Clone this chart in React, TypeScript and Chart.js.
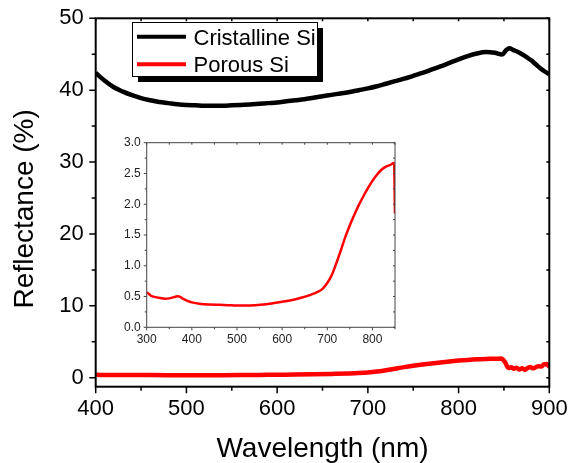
import React, { useEffect, useRef } from 'react';
import { Chart, registerables } from 'chart.js';

Chart.register(...registerables);

const FONT = "'Liberation Sans', Arial, Helvetica, sans-serif";

// ---- Main chart data ----
const crystWl = [400,410,420,430,440,450,460,470,480,490,500,510,520,530,540,550,560,570,580,590,600,610,620,630,640,650,660,670,680,690,700,710,720,730,740,750,760,770,780,790,800,810,820,830,840,848,852,856,860,865,870,875,880,885,890,895,900];
const crystR = [42.4,41.3,40.4,39.8,39.3,38.9,38.6,38.35,38.2,38.05,37.95,37.9,37.85,37.85,37.85,37.9,37.95,38.0,38.1,38.2,38.3,38.45,38.6,38.75,38.95,39.15,39.35,39.55,39.75,40.0,40.25,40.55,40.9,41.25,41.6,42.0,42.4,42.85,43.3,43.8,44.3,44.75,45.1,45.3,45.2,44.95,45.5,45.85,45.6,45.35,45.0,44.6,44.15,43.6,43.05,42.6,42.2];

const porousWl = [400,420,440,460,480,500,520,540,560,580,600,620,640,660,680,690,700,710,720,730,740,750,760,770,780,790,800,810,820,830,840,847,851,855,858,861,864,867,870,873,876,879,882,885,888,891,894,897,900];
const porousR = [0.40,0.38,0.37,0.365,0.36,0.355,0.355,0.36,0.37,0.39,0.42,0.44,0.48,0.53,0.59,0.64,0.72,0.85,1.04,1.25,1.47,1.66,1.83,1.99,2.13,2.26,2.38,2.48,2.56,2.61,2.64,2.67,2.2,1.35,1.45,1.25,1.4,1.15,1.3,1.1,1.35,1.5,1.3,1.45,1.6,1.55,1.85,1.9,1.5];

// ---- Inset data ----
const insetWl = [300,305,310,320,330,340,350,360,365,370,375,380,390,400,420,440,460,480,500,520,540,560,580,600,620,640,660,680,690,700,710,720,730,740,750,760,770,780,790,800,810,820,830,840,848,850];
const insetR = [0.57,0.54,0.51,0.49,0.475,0.465,0.47,0.49,0.50,0.505,0.49,0.465,0.43,0.405,0.38,0.37,0.365,0.36,0.355,0.355,0.36,0.37,0.39,0.415,0.44,0.475,0.52,0.58,0.63,0.72,0.85,1.04,1.25,1.47,1.66,1.83,1.99,2.13,2.26,2.38,2.48,2.56,2.61,2.64,2.67,1.85];

// ---- Ticks ----
const mainXTicks = [400,450,500,550,600,650,700,750,800,850,900];
const mainYTicks = [0,5,10,15,20,25,30,35,40,45,50];
const insetXTicks = [300,350,400,450,500,550,600,650,700,750,800,850];
const insetYTicks = [0,0.25,0.5,0.75,1,1.25,1.5,1.75,2,2.25,2.5,2.75,3];

const xTitle = 'Wavelength (nm)';
const yTitle = 'Reflectance (%)';
const seriesNames = ['Cristalline Si', 'Porous Si'];

function framePlugin(cfg: any) {
  return {
    id: 'frame_' + cfg.id,
    afterDraw(chart: any) {
      const { ctx, chartArea: a, scales } = chart;
      const xs = scales.x, ys = scales.y;
      ctx.save();
      ctx.strokeStyle = cfg.color;
      ctx.lineWidth = cfg.tickW;
      ctx.beginPath();
      for (const v of cfg.xTicks) {
        const px = xs.getPixelForValue(v);
        const major = cfg.xMajor(v);
        ctx.moveTo(px, a.bottom);
        ctx.lineTo(px, a.bottom + (major ? cfg.outMajor : cfg.outMinor));
        ctx.moveTo(px, a.top);
        ctx.lineTo(px, a.top + cfg.inLen);
      }
      for (const v of cfg.yTicks) {
        const py = ys.getPixelForValue(v);
        const major = cfg.yMajor(v);
        ctx.moveTo(a.left, py);
        ctx.lineTo(a.left - (major ? cfg.outMajor : cfg.outMinor), py);
        ctx.moveTo(a.right, py);
        ctx.lineTo(a.right - cfg.inLen, py);
      }
      ctx.stroke();
      ctx.lineWidth = cfg.lw;
      ctx.strokeRect(a.left, a.top, a.right - a.left, a.bottom - a.top);
      ctx.restore();
    },
  };
}

const legendPlugin = {
  id: 'boxLegend',
  afterDraw(chart: any) {
    const { ctx } = chart;
    const bx = 132.5, by = 22.5, bw = 185, bh = 54;
    ctx.save();
    ctx.fillStyle = '#000';
    ctx.fillRect(bx + 5.5, by + 5.5, bw, bh);
    ctx.fillStyle = '#fff';
    ctx.fillRect(bx, by, bw, bh);
    ctx.strokeStyle = '#000';
    ctx.lineWidth = 1;
    ctx.strokeRect(bx, by, bw, bh);
    const rows = [36.7, 64.3];
    const order = [0, 1];
    order.forEach((di, i) => {
      const ds = chart.data.datasets[di];
      ctx.strokeStyle = ds.borderColor;
      ctx.lineWidth = 4;
      ctx.beginPath();
      ctx.moveTo(137, rows[i]);
      ctx.lineTo(186, rows[i]);
      ctx.stroke();
      ctx.fillStyle = '#000';
      ctx.font = `22px ${FONT}`;
      ctx.textBaseline = 'alphabetic';
      ctx.textAlign = 'left';
      ctx.fillText(ds.label, 193.5, rows[i] + 8);
    });
    // y axis title
    ctx.translate(25.3, 208.8);
    ctx.rotate(-Math.PI / 2);
    ctx.font = `28px ${FONT}`;
    ctx.textAlign = 'center';
    ctx.textBaseline = 'middle';
    ctx.fillStyle = '#000';
    ctx.fillText(yTitle, 0, 0);
    ctx.restore();
  },
};

const fitX = (h: number) => (s: any) => {
  s.height = h;
  s.paddingLeft = 0;
  s.paddingRight = 0;
};
const fitY = (w: number) => (s: any) => {
  s.width = w;
  s.paddingTop = 0;
  s.paddingBottom = 0;
};

export default function App() {
  const mainRef = useRef<HTMLCanvasElement>(null);
  const insetRef = useRef<HTMLCanvasElement>(null);

  useEffect(() => {
    const main = new Chart(mainRef.current as HTMLCanvasElement, {
      type: 'line',
      data: {
        datasets: [
          {
            label: seriesNames[0],
            data: crystWl.map((x, i) => ({ x, y: crystR[i] })),
            borderColor: '#000000',
            borderWidth: 4.5,
            pointRadius: 0,
            cubicInterpolationMode: 'monotone',
            fill: false,
          },
          {
            label: seriesNames[1],
            data: porousWl.map((x, i) => ({ x, y: porousR[i] })),
            borderColor: '#ff0000',
            borderWidth: 4.5,
            pointRadius: 0,
            cubicInterpolationMode: 'monotone',
            fill: false,
          },
        ],
      },
      options: {
        animation: false,
        responsive: false,
        devicePixelRatio: 1,
        layout: { padding: { left: 0, right: 21.7, top: 18.3, bottom: 0 } },
        plugins: { legend: { display: false }, tooltip: { enabled: false } },
        scales: {
          x: {
            type: 'linear',
            min: 400,
            max: 900,
            afterBuildTicks: (s: any) => { s.ticks = mainXTicks.map((v) => ({ value: v })); },
            afterFit: fitX(76.3),
            grid: { display: false, drawTicks: false },
            border: { display: false },
            ticks: {
              autoSkip: false,
              maxRotation: 0,
              padding: 9.5,
              color: '#000',
              font: { family: FONT, size: 22 },
              callback: (v: any) => (Number(v) % 100 === 0 ? String(v) : ''),
            },
            title: {
              display: true,
              text: xTitle,
              color: '#000',
              font: { family: FONT, size: 28, lineHeight: 1 },
              padding: 0,
            },
          },
          y: {
            type: 'linear',
            min: -1.25,
            max: 50,
            afterBuildTicks: (s: any) => { s.ticks = mainYTicks.map((v) => ({ value: v })); },
            afterFit: fitY(95.7),
            grid: { display: false, drawTicks: false },
            border: { display: false },
            ticks: {
              autoSkip: false,
              padding: 12,
              color: '#000',
              font: { family: FONT, size: 22 },
              callback: (v: any) => (Number(v) % 10 === 0 ? String(v) : ''),
            },
          },
        },
      } as any,
      plugins: [
        framePlugin({
          id: 'main', color: '#000', lw: 2, tickW: 1.5,
          xTicks: mainXTicks, yTicks: mainYTicks,
          xMajor: (v: number) => v % 100 === 0, yMajor: (v: number) => v % 10 === 0,
          outMajor: 6.5, outMinor: 4, inLen: 3,
        }),
        legendPlugin,
      ],
    });

    const inset = new Chart(insetRef.current as HTMLCanvasElement, {
      type: 'line',
      data: {
        datasets: [
          {
            label: seriesNames[1],
            data: insetWl.map((x, i) => ({ x, y: insetR[i] })),
            borderColor: '#ff0000',
            borderWidth: 2.5,
            pointRadius: 0,
            cubicInterpolationMode: 'monotone',
            fill: false,
          },
        ],
      },
      options: {
        animation: false,
        responsive: false,
        devicePixelRatio: 1,
        layout: { padding: { left: 0, right: 5, top: 12.7, bottom: 0 } },
        plugins: { legend: { display: false }, tooltip: { enabled: false } },
        scales: {
          x: {
            type: 'linear',
            min: 300,
            max: 850,
            afterBuildTicks: (s: any) => { s.ticks = insetXTicks.map((v) => ({ value: v })); },
            afterFit: fitX(27.7),
            grid: { display: false, drawTicks: false },
            border: { display: false },
            ticks: {
              autoSkip: false,
              maxRotation: 0,
              padding: 5.6,
              color: '#222',
              font: { family: FONT, size: 12 },
              callback: (v: any) => (Number(v) % 100 === 0 ? String(v) : ''),
            },
          },
          y: {
            type: 'linear',
            min: 0,
            max: 3,
            afterBuildTicks: (s: any) => { s.ticks = insetYTicks.map((v) => ({ value: v })); },
            afterFit: fitY(46.7),
            grid: { display: false, drawTicks: false },
            border: { display: false },
            ticks: {
              autoSkip: false,
              padding: 6,
              color: '#222',
              font: { family: FONT, size: 12 },
              callback: (v: any) => {
                const n = Number(v);
                return Math.abs(n * 2 - Math.round(n * 2)) < 1e-6 ? n.toFixed(1) : '';
              },
            },
          },
        },
      } as any,
      plugins: [
        framePlugin({
          id: 'inset', color: '#444', lw: 1, tickW: 1,
          xTicks: insetXTicks, yTicks: insetYTicks,
          xMajor: (v: number) => v % 100 === 0,
          yMajor: (v: number) => Math.abs(v * 2 - Math.round(v * 2)) < 1e-6,
          outMajor: 3, outMinor: 2, inLen: 2,
        }),
      ],
    });

    return () => {
      main.destroy();
      inset.destroy();
    };
  }, []);

  return (
    <div style={{ position: 'fixed', left: 0, top: 0, width: 571, height: 463, background: '#fff' }}>
      <canvas
        ref={mainRef}
        width={571}
        height={463}
        style={{ position: 'absolute', left: 0, top: 0, width: 571, height: 463 }}
      />
      <canvas
        ref={insetRef}
        width={300}
        height={225}
        style={{ position: 'absolute', left: 100, top: 130, width: 300, height: 225 }}
      />
    </div>
  );
}
